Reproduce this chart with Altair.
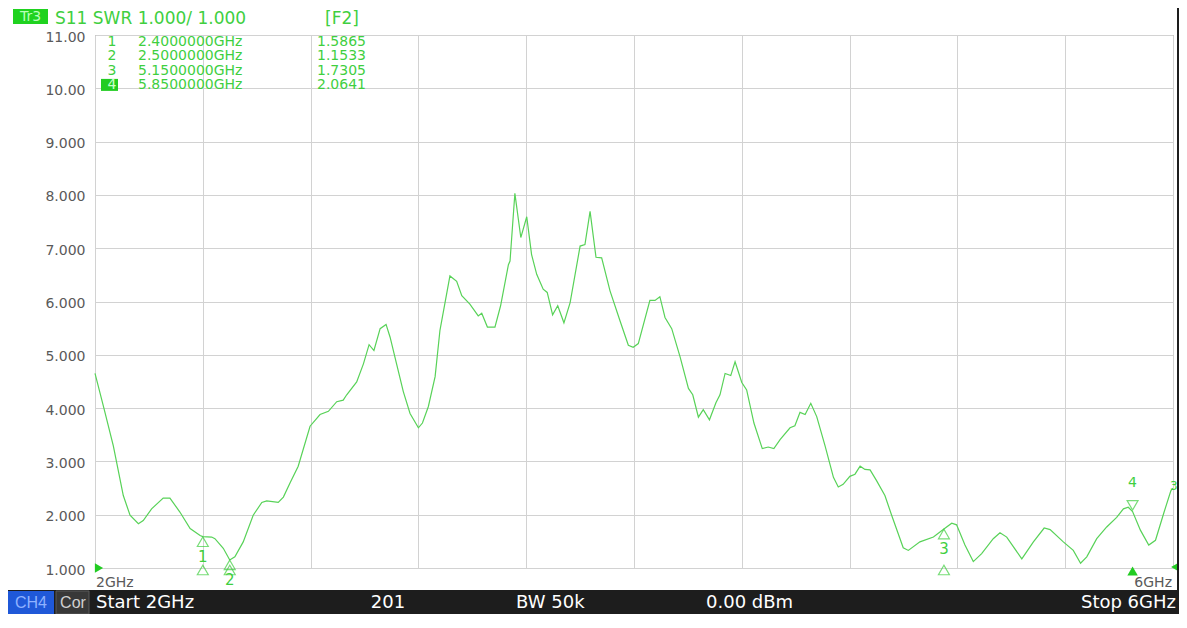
import altair as alt
import pandas as pd

# ---- trace data (S11 SWR vs frequency) ----
freq_ghz = [2.000, 2.033, 2.068, 2.105, 2.130, 2.161, 2.179, 2.210, 2.253, 2.278,
            2.315, 2.353, 2.390, 2.400, 2.433, 2.445, 2.476, 2.500, 2.519, 2.550,
            2.587, 2.619, 2.637, 2.680, 2.699, 2.724, 2.754, 2.798, 2.835, 2.866,
            2.897, 2.921, 2.934, 2.971, 2.996, 3.017, 3.035, 3.058, 3.080, 3.095,
            3.119, 3.144, 3.169, 3.200, 3.215, 3.237, 3.262, 3.280, 3.317, 3.342,
            3.361, 3.391, 3.422, 3.435, 3.456, 3.484, 3.505, 3.534, 3.540, 3.558,
            3.580, 3.602, 3.620, 3.639, 3.663, 3.678, 3.698, 3.717, 3.740, 3.763,
            3.800, 3.818, 3.837, 3.859, 3.880, 3.911, 3.948, 3.979, 3.997, 4.016,
            4.059, 4.078, 4.096, 4.115, 4.140, 4.171, 4.202, 4.218, 4.239, 4.257,
            4.280, 4.304, 4.319, 4.338, 4.359, 4.375, 4.400, 4.418, 4.445, 4.476,
            4.498, 4.519, 4.542, 4.579, 4.597, 4.616, 4.635, 4.656, 4.678, 4.709,
            4.740, 4.758, 4.776, 4.801, 4.820, 4.839, 4.857, 4.876, 4.900, 4.931,
            4.956, 4.999, 5.018, 5.061, 5.111, 5.150, 5.179, 5.197, 5.228, 5.259,
            5.290, 5.333, 5.358, 5.383, 5.439, 5.482, 5.522, 5.544, 5.593, 5.630,
            5.657, 5.680, 5.717, 5.754, 5.791, 5.816, 5.834, 5.850, 5.879, 5.910,
            5.935, 5.967, 5.992, 6.000]
swr = [4.65, 4.00, 3.29, 2.36, 1.99, 1.83, 1.89, 2.11, 2.31, 2.31,
       2.05, 1.74, 1.61, 1.59, 1.58, 1.55, 1.37, 1.15, 1.21, 1.49,
       1.99, 2.23, 2.26, 2.23, 2.33, 2.60, 2.91, 3.66, 3.88, 3.94,
       4.12, 4.15, 4.25, 4.49, 4.83, 5.19, 5.08, 5.49, 5.57, 5.33,
       4.83, 4.31, 3.90, 3.63, 3.72, 4.03, 4.59, 5.46, 6.48, 6.38,
       6.11, 5.95, 5.73, 5.78, 5.52, 5.52, 5.92, 6.69, 6.76, 8.03,
       7.20, 7.59, 6.88, 6.51, 6.23, 6.17, 5.75, 5.92, 5.60, 5.98,
       7.04, 7.07, 7.69, 6.83, 6.82, 6.20, 5.64, 5.18, 5.14, 5.21,
       6.02, 6.02, 6.09, 5.70, 5.49, 4.96, 4.37, 4.25, 3.83, 3.97,
       3.78, 4.10, 4.25, 4.65, 4.61, 4.87, 4.48, 4.34, 3.72, 3.24,
       3.27, 3.24, 3.41, 3.63, 3.67, 3.92, 3.88, 4.09, 3.84, 3.29,
       2.70, 2.52, 2.57, 2.72, 2.76, 2.91, 2.85, 2.84, 2.64, 2.36,
       1.99, 1.38, 1.33, 1.49, 1.58, 1.73, 1.84, 1.81, 1.43, 1.12,
       1.27, 1.55, 1.66, 1.58, 1.17, 1.49, 1.75, 1.72, 1.49, 1.33,
       1.09, 1.21, 1.55, 1.77, 1.95, 2.11, 2.14, 2.06, 1.71, 1.43,
       1.52, 2.05, 2.45, 2.50]

# ---- markers ----
marker_ids = ["1", "2", "3", "4"]
marker_freq = [2.40, 2.50, 5.15, 5.85]
marker_swr = [1.5865, 1.1533, 1.7305, 2.0641]
marker_freq_text = ["2.4000000GHz", "2.5000000GHz", "5.1500000GHz", "5.8500000GHz"]
marker_swr_text = ["1.5865", "1.1533", "1.7305", "2.0641"]
active_marker = "4"

# ---- axes ----
y_ticks = [1, 2, 3, 4, 5, 6, 7, 8, 9, 10, 11]
x_grid = [2.0, 2.4, 2.8, 3.2, 3.6, 4.0, 4.4, 4.8, 5.2, 5.6, 6.0]
x_label_freq = [2.0, 6.0]
x_label_text = ["2GHz", "6GHz"]

# ---- text ----
trace_tag = "Tr3"
trace_title = "S11 SWR 1.000/ 1.000"
trace_fmt = "[F2]"
trace_end_tag = "3"
status_items = ["Start 2GHz", "201", "BW 50k", "0.00 dBm", "Stop 6GHz"]

W, H = 1078, 533
GREEN = "#3fcf3f"
TRACE = "#58d258"
DARK = "#1d1d1d"
FONT = "DejaVu Sans"

trace_df = pd.DataFrame({"f": freq_ghz, "s": swr})
mk_df = pd.DataFrame({"id": marker_ids, "f": marker_freq, "s": marker_swr,
                      "ftxt": marker_freq_text, "stxt": marker_swr_text})
one = pd.DataFrame({"a": [0]})

xscale = alt.Scale(domain=[2, 6], nice=False, zero=False)
yscale = alt.Scale(domain=[1, 11], nice=False, zero=False)
X = alt.X("f:Q", scale=xscale,
          axis=alt.Axis(values=x_grid, labels=False, ticks=False, domain=False,
                        title=None, grid=True, gridColor="#d2d2d2", gridWidth=1))
Y = alt.Y("s:Q", scale=yscale,
          axis=alt.Axis(values=y_ticks, ticks=False, domain=False, title=None,
                        grid=True, gridColor="#d2d2d2", gridWidth=1,
                        labelExpr="datum.value >= 10 ? format(datum.value, '.2f') : format(datum.value, '.3f')",
                        labelFont=FONT, labelFontSize=14, labelColor="#5a5a5a",
                        labelPadding=10, labelOffset=2))

trace = alt.Chart(trace_df).mark_line(color=TRACE, strokeWidth=1.2).encode(x=X, y=Y)

# marker symbols on the trace
mk_up = alt.Chart(mk_df).transform_filter(f"datum.id != '{active_marker}'").mark_point(
    shape="triangle-up", filled=False, color=GREEN, size=120, strokeWidth=1.2, yOffset=5
).encode(x=X, y=Y)
mk_up_lbl = alt.Chart(mk_df).transform_filter(f"datum.id != '{active_marker}'").mark_text(
    color=GREEN, font=FONT, fontSize=15, dy=20, baseline="middle"
).encode(x=X, y=Y, text="id:N")
mk_dn = alt.Chart(mk_df).transform_filter(f"datum.id == '{active_marker}'").mark_point(
    shape="triangle-down", filled=False, color=GREEN, size=120, strokeWidth=1.2, yOffset=-6
).encode(x=X, y=Y)
mk_dn_lbl = alt.Chart(mk_df).transform_filter(f"datum.id == '{active_marker}'").mark_text(
    color=GREEN, font=FONT, fontSize=14, dy=-28, baseline="middle"
).encode(x=X, y=Y, text="id:N")

# stimulus markers on the bottom edge
stim = alt.Chart(mk_df).transform_filter(f"datum.id != '{active_marker}'").mark_point(
    shape="triangle-up", filled=False, color=GREEN, size=120, strokeWidth=1.2, yOffset=2
).encode(x=X, y=alt.datum(1))
stim_act = alt.Chart(mk_df).transform_filter(f"datum.id == '{active_marker}'").mark_point(
    shape="triangle-up", filled=True, color="#22cc22", size=110, opacity=1, yOffset=3
).encode(x=X, y=alt.datum(1))

# reference level arrows
ref_left = alt.Chart(one).mark_point(shape="triangle-right", filled=True, color="#22cc22",
                                     size=90, opacity=1, xOffset=4).encode(
    x=alt.datum(2), y=alt.datum(1))
ref_right = alt.Chart(one).mark_point(shape="triangle-left", filled=True, color="#22cc22",
                                      size=80, opacity=1, xOffset=2, yOffset=-1).encode(
    x=alt.datum(6), y=alt.datum(1))

# trace end tag
end_df = pd.DataFrame({"f": [freq_ghz[-1]], "s": [swr[-1]], "t": [trace_end_tag]})
end_tag = alt.Chart(end_df).mark_text(color=GREEN, font=FONT, fontSize=12, align="left",
                                      dx=-3, dy=-2, baseline="middle").encode(x=X, y=Y, text="t:N")

# x tick labels
xl_df = pd.DataFrame({"f": x_label_freq, "t": x_label_text})
xl_left = alt.Chart(xl_df).transform_filter("datum.f < 4").mark_text(
    align="left", baseline="middle", font=FONT, fontSize=14, color="#5a5a5a", dx=1
).encode(x=X, y=alt.value(H + 15), text="t:N")
xl_right = alt.Chart(xl_df).transform_filter("datum.f > 4").mark_text(
    align="right", baseline="middle", font=FONT, fontSize=14, color="#5a5a5a", dx=-1
).encode(x=X, y=alt.value(H + 15), text="t:N")

# marker table
tbl = alt.Chart(mk_df).transform_window(rn="row_number()").transform_calculate(
    ry="7 + (datum.rn - 1) * 14.3")
tbl_hl = tbl.transform_filter(f"datum.id == '{active_marker}'").transform_calculate(
    ry0="datum.ry - 6", ry1="datum.ry + 6").mark_rect(color="#22cc22").encode(
    x=alt.value(6), x2=alt.value(23),
    y=alt.Y("ry0:Q", scale=None), y2=alt.Y2("ry1:Q"))
tbl_id = tbl.mark_text(align="center", baseline="middle", font=FONT, fontSize=14).encode(
    x=alt.value(17), y=alt.Y("ry:Q", scale=None), text="id:N",
    color=alt.condition(f"datum.id == '{active_marker}'", alt.value("#c9ffc9"), alt.value(GREEN)))
tbl_f = tbl.mark_text(align="left", baseline="middle", font=FONT, fontSize=14, color=GREEN).encode(
    x=alt.value(43), y=alt.Y("ry:Q", scale=None), text="ftxt:N")
tbl_s = tbl.mark_text(align="left", baseline="middle", font=FONT, fontSize=14, color=GREEN).encode(
    x=alt.value(222), y=alt.Y("ry:Q", scale=None), text="stxt:N")

# header
hdr_box = alt.Chart(one).mark_rect(color="#1fd21f").encode(
    x=alt.value(-82), x2=alt.value(-47), y=alt.value(-26), y2=alt.value(-11))
hdr_tag = alt.Chart(one).mark_text(text=trace_tag, font=FONT, fontSize=14, color="#b8ffb8",
                                   align="center", baseline="middle").encode(
    x=alt.value(-64.5), y=alt.value(-18.5))
hdr_title = alt.Chart(one).mark_text(text=trace_title, font=FONT, fontSize=17, color=GREEN,
                                     align="left", baseline="alphabetic").encode(
    x=alt.value(-40), y=alt.value(-11))
hdr_fmt = alt.Chart(one).mark_text(text=trace_fmt, font=FONT, fontSize=17, color=GREEN,
                                   align="left", baseline="alphabetic").encode(
    x=alt.value(230), y=alt.value(-11))

# frame and status bar
bar = alt.Chart(one).mark_rect(color=DARK).encode(
    x=alt.value(-87), x2=alt.value(1084), y=alt.value(555), y2=alt.value(579))
right_strip = alt.Chart(one).mark_rect(color=DARK).encode(
    x=alt.value(1082), x2=alt.value(1084), y=alt.value(-27), y2=alt.value(579))
ch_box = alt.Chart(one).mark_rect(color="#1f58d8").encode(
    x=alt.value(-87), x2=alt.value(-41), y=alt.value(556), y2=alt.value(579))
cor_box = alt.Chart(one).mark_rect(color="#383838", stroke="#5a5a5a", strokeWidth=1).encode(
    x=alt.value(-39), x2=alt.value(-6), y=alt.value(556), y2=alt.value(579))
ch_txt = alt.Chart(one).mark_text(text="CH4", font="Liberation Sans", fontSize=16,
                                  color="#8fb2ff", align="center", baseline="middle").encode(
    x=alt.value(-64), y=alt.value(568))
cor_txt = alt.Chart(one).mark_text(text="Cor", font="Liberation Sans", fontSize=16,
                                   color="#d0d0d0", align="center", baseline="middle").encode(
    x=alt.value(-22), y=alt.value(568))

st_kw = dict(font=FONT, fontSize=18, color="#ffffff", baseline="middle")
st = [
    alt.Chart(one).mark_text(text=status_items[0], align="left", **st_kw).encode(x=alt.value(1), y=alt.value(568)),
    alt.Chart(one).mark_text(text=status_items[1], align="center", **st_kw).encode(x=alt.value(293), y=alt.value(568)),
    alt.Chart(one).mark_text(text=status_items[2], align="left", **st_kw).encode(x=alt.value(421), y=alt.value(568)),
    alt.Chart(one).mark_text(text=status_items[3], align="left", **st_kw).encode(x=alt.value(611), y=alt.value(568)),
    alt.Chart(one).mark_text(text=status_items[4], align="right", **st_kw).encode(x=alt.value(1081), y=alt.value(568)),
]

chart = alt.layer(
    trace, mk_up, mk_up_lbl, mk_dn, mk_dn_lbl, stim, stim_act, ref_left, ref_right, end_tag,
    xl_left, xl_right, tbl_hl, tbl_id, tbl_f, tbl_s,
    hdr_box, hdr_tag, hdr_title, hdr_fmt,
    bar, right_strip, ch_box, cor_box, ch_txt, cor_txt, *st
).properties(
    width=W, height=H,
    autosize=alt.AutoSizeParams(type="none"),
    padding={"left": 87, "top": 27, "right": 6, "bottom": 46},
    background="#ffffff",
).configure_view(stroke="#8a8a8a", strokeWidth=1)

chart.save("out.html", embed_options={"renderer": "svg", "actions": False})
